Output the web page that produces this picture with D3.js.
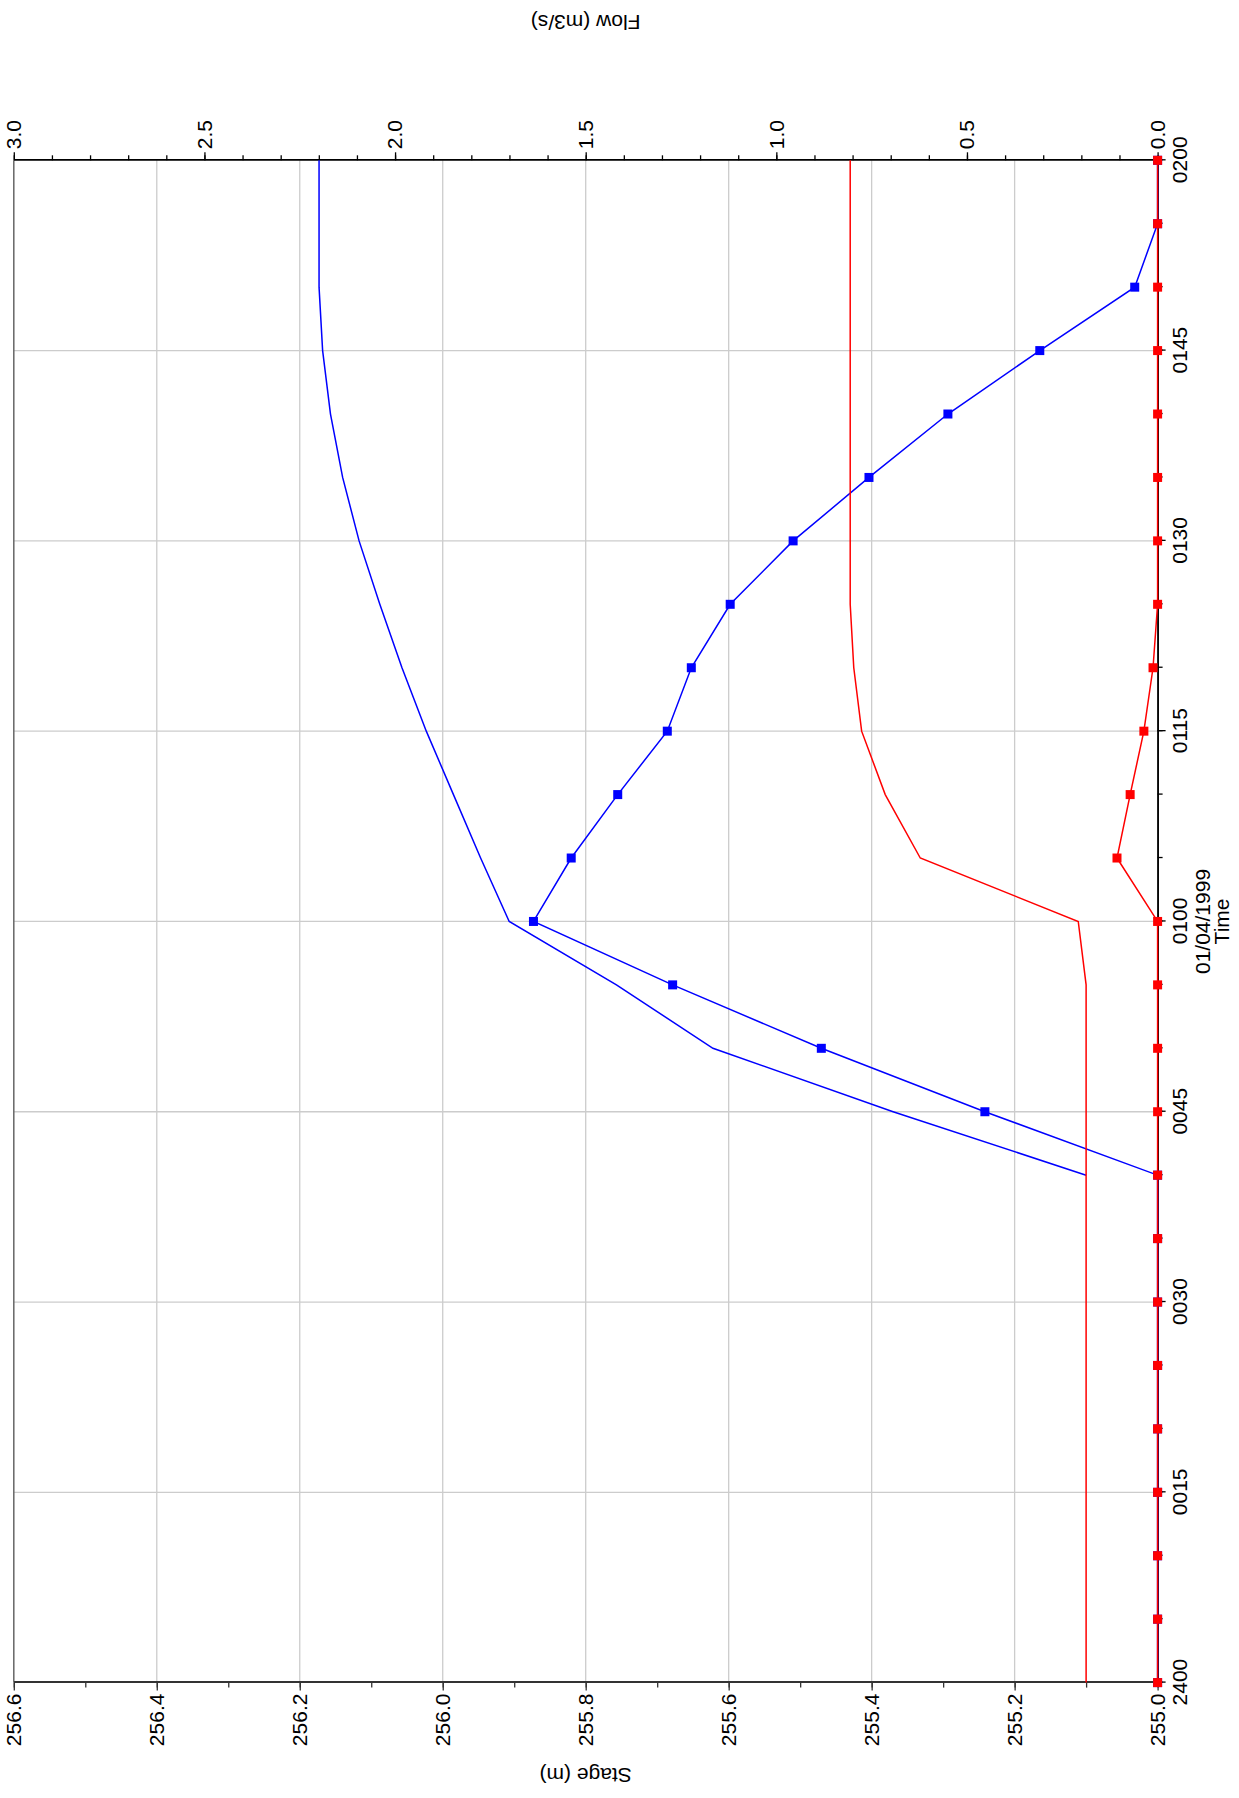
<!DOCTYPE html>
<html>
<head>
<meta charset="utf-8">
<script src="https://cdn.jsdelivr.net/npm/d3@7"></script>
<style>
  html, body { margin: 0; padding: 0; background: #fff; }
  svg { display: block; font-family: "Liberation Sans", Arial, sans-serif; }
</style>
</head>
<body>
<svg id="chart" width="1239" height="1798"></svg>
<script>
// ---- data ----
const timeMin = [0,5,10,15,20,25,30,35,40,45,50,55,60,65,70,75,80,85,90,95,100,105,110,115,120];
const timeTicks = [0,15,30,45,60,75,90,105,120];
const stageTicks = [255.0,255.2,255.4,255.6,255.8,256.0,256.2,256.4,256.6];
const flowTicks = [0.0,0.5,1.0,1.5,2.0,2.5,3.0];
const dateLabel = "01/04/1999";

const blueStage = [null,null,null,null,null,null,null,null,
  255.10,255.37,255.622,255.757,255.907,255.947,255.985,256.023,256.057,256.088,256.117,256.140,256.157,256.168,256.173,256.173,256.173];
const blueFlow = [0,0,0,0,0,0,0,0,0,
  0.453,0.882,1.272,1.637,1.538,1.416,1.286,1.223,1.121,0.956,0.757,0.550,0.309,0.060,0,0];
const redStage = [255.1,255.1,255.1,255.1,255.1,255.1,255.1,255.1,255.1,255.1,255.1,255.1,
  255.111,255.332,255.381,255.414,255.425,255.430,255.430,255.430,255.430,255.430,255.430,255.430,255.430];
const redFlow = [0,0,0,0,0,0,0,0,0,0,0,0,0,
  0.1065,0.072,0.036,0.012,0,0,0,0,0,0,0,0];

// ---- layout (drawn in landscape, then rotated -90deg) ----
const W = 1239, H = 1798;
const svg = d3.select("#chart");
const g = svg.append("g").attr("transform", `translate(0,${H}) rotate(-90)`);
// inner system: width H (1798), height W (1239)
const L = 115.4, R = 1637.7, T = 13.8, B = 1157.6;
const FS = 21;

const x = d3.scaleLinear().domain([0,120]).range([L,R]);
const yS = d3.scaleLinear().domain([255,256.6]).range([B,T]);
const yF = d3.scaleLinear().domain([0,3]).range([B,T]);

const fmtTime = m => {
  if (m === 0) return "2400";
  const hh = Math.floor(m/60), mm = m % 60;
  return String(hh).padStart(2,"0") + String(mm).padStart(2,"0");
};

// gridlines
const grid = g.append("g").attr("stroke","#cccccc").attr("stroke-width",1.3);
grid.selectAll("line.h").data(stageTicks.slice(1,-1)).join("line")
  .attr("x1",L).attr("x2",R).attr("y1",d=>yS(d)).attr("y2",d=>yS(d));
grid.selectAll("line.v").data(timeTicks.slice(1,-1)).join("line")
  .attr("x1",d=>x(d)).attr("x2",d=>x(d)).attr("y1",T).attr("y2",B);

// frame top (screen left)
g.append("line").attr("x1",L).attr("x2",R).attr("y1",T).attr("y2",T)
  .attr("stroke","#666").attr("stroke-width",1.5);

function styleAxis(sel, color, width) {
  sel.select(".domain").attr("stroke",color).attr("stroke-width",width);
  sel.selectAll(".tick line").attr("stroke",color).attr("stroke-width",1.3);
  sel.selectAll(".tick text").attr("font-size",FS).attr("fill","#000")
     .attr("font-family",'"Liberation Sans", Arial, sans-serif');
}

// stage axis (left)
const stageMinor = d3.range(0,17).map(i => 255 + i*0.1);
const aSm = g.append("g").attr("transform",`translate(${L},0)`)
  .call(d3.axisLeft(yS).tickValues(stageMinor).tickSize(5).tickSizeOuter(0).tickFormat(""));
styleAxis(aSm,"#333",2);
const aS = g.append("g").attr("transform",`translate(${L},0)`)
  .call(d3.axisLeft(yS).tickValues(stageTicks).tickSize(8).tickSizeOuter(0).tickPadding(3).tickFormat(d3.format(".1f")));
styleAxis(aS,"#333",2);

// flow axis (right)
const flowMinor = d3.range(0,31).map(i => i*0.1);
const aFm = g.append("g").attr("transform",`translate(${R},0)`)
  .call(d3.axisRight(yF).tickValues(flowMinor).tickSize(5).tickSizeOuter(0).tickFormat(""));
styleAxis(aFm,"#000",1.5);
const aF = g.append("g").attr("transform",`translate(${R},0)`)
  .call(d3.axisRight(yF).tickValues(flowTicks).tickSize(8).tickSizeOuter(0).tickPadding(3).tickFormat(d3.format(".1f")));
styleAxis(aF,"#000",1.5);

// time axis (bottom)
const aTm = g.append("g").attr("transform",`translate(0,${B})`)
  .call(d3.axisBottom(x).tickValues(timeMin).tickSize(5).tickSizeOuter(0).tickFormat(""));
styleAxis(aTm,"#000",1.5);
const aT = g.append("g").attr("transform",`translate(0,${B})`)
  .call(d3.axisBottom(x).tickValues(timeTicks).tickSize(8).tickSizeOuter(0).tickPadding(6).tickFormat(fmtTime));
styleAxis(aT,"#000",1.5);

// axis titles
g.append("text").attr("x",x(60)).attr("y",B + 52).attr("text-anchor","middle")
  .attr("font-size",FS).text(dateLabel);
g.append("text").attr("x",(L+R)/2).attr("y",B + 71).attr("text-anchor","middle")
  .attr("font-size",FS).text("Time");
g.append("text").attr("transform",`translate(${L-85},${(T+B)/2}) rotate(-90)`)
  .attr("text-anchor","middle").attr("font-size",FS).text("Stage (m)");
g.append("text").attr("transform",`translate(${R+145},${(T+B)/2}) rotate(-90)`)
  .attr("text-anchor","middle").attr("font-size",FS).text("Flow (m3/s)");

// series
const plot = g.append("g");
function drawSeries(vals, yScale, color, markers) {
  const pts = timeMin.map((t,i)=>({t, v: vals[i]}));
  const line = d3.line().defined(d=>d.v!==null).x(d=>x(d.t)).y(d=>yScale(d.v));
  plot.append("path").datum(pts).attr("d",line).attr("fill","none")
    .attr("stroke",color).attr("stroke-width",1.5);
  if (markers) {
    plot.append("g").selectAll("rect").data(pts.filter(d=>d.v!==null)).join("rect")
      .attr("x",d=>x(d.t)-4.5).attr("y",d=>yScale(d.v)-4.5)
      .attr("width",9).attr("height",9).attr("fill",color);
  }
}
drawSeries(blueStage, yS, "#0000ff", false);
drawSeries(blueFlow, yF, "#0000ff", true);
drawSeries(redStage, yS, "#ff0000", false);
drawSeries(redFlow, yF, "#ff0000", true);
</script>
</body>
</html>
